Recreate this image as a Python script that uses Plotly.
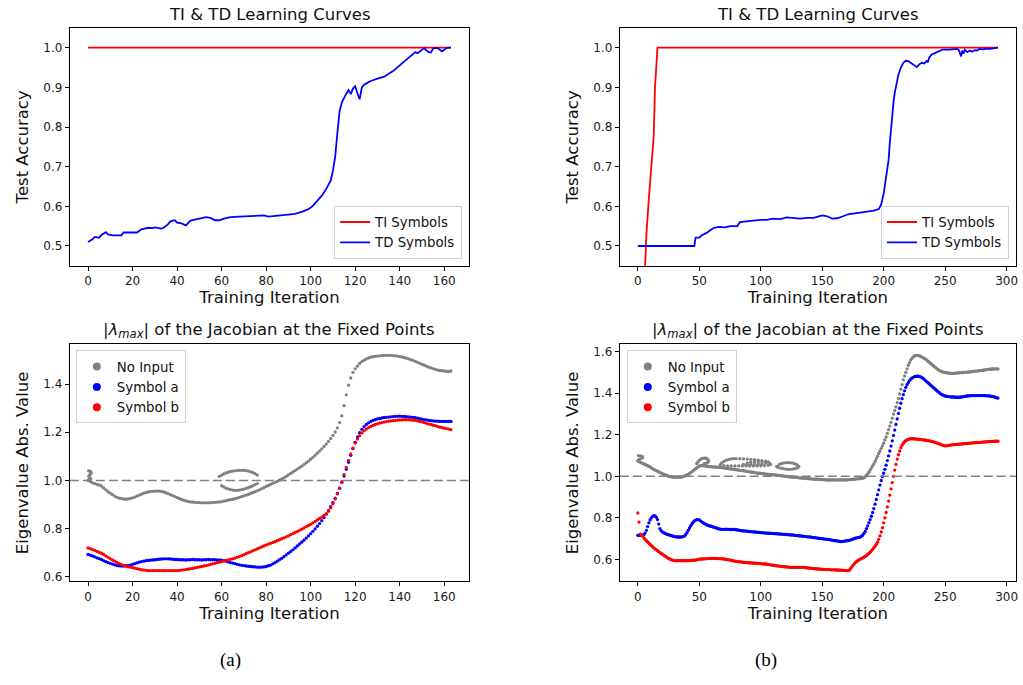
import plotly.graph_objects as go

W, H = 1023, 685

# ---------------- data: panel (a) ----------------
ti_a_x = [0, 163]
ti_a_y = [1.0, 1.0]

td_a_x = [0, 2, 3, 5, 6, 8, 9, 11, 13, 15, 16, 19, 22, 24, 27, 29, 30, 33, 34, 36, 37, 39, 40, 42, 44,
          46, 49, 51, 53, 55, 57, 59, 61, 64, 68, 74, 79, 81, 85, 89, 93, 96, 99, 101, 103, 105, 107,
          109, 110, 111, 112, 113, 114, 115, 116, 117, 118, 119, 120, 121, 122, 123, 124, 125, 127, 130,
          133, 137, 140, 142, 144, 146, 147, 148, 149, 150, 151, 152, 153, 154, 155, 156, 157, 158, 159,
          160, 161, 162, 163]
td_a_y = [0.510, 0.517, 0.523, 0.521, 0.528, 0.535, 0.529, 0.527, 0.527, 0.527, 0.534, 0.534, 0.534,
          0.542, 0.546, 0.545, 0.547, 0.544, 0.546, 0.555, 0.562, 0.565, 0.559, 0.557, 0.552,
          0.564, 0.567, 0.570, 0.573, 0.571, 0.565, 0.565, 0.569, 0.573, 0.574, 0.575, 0.577, 0.574,
          0.576, 0.578, 0.581, 0.586, 0.593, 0.601, 0.613, 0.627, 0.644,
          0.665, 0.690, 0.725, 0.785, 0.840, 0.862, 0.875, 0.884, 0.893, 0.883, 0.897, 0.903, 0.885,
          0.870, 0.900, 0.907, 0.910, 0.916, 0.922,
          0.927, 0.941, 0.956, 0.966, 0.976, 0.985, 0.989, 0.986, 0.990, 0.995, 0.999, 0.993, 0.989,
          0.988, 0.998, 0.999, 0.999, 0.995, 0.991,
          0.995, 0.999, 1.000, 1.000]

gray_a = [1.000, 0.995, 0.990, 0.987, 0.984, 0.981, 0.977, 0.969, 0.961, 0.953,
          0.947, 0.941, 0.935, 0.930, 0.927, 0.925, 0.923, 0.922, 0.923, 0.925,
          0.928, 0.931, 0.935, 0.939, 0.943, 0.947, 0.950, 0.952, 0.954, 0.955,
          0.956, 0.956, 0.956, 0.954, 0.952, 0.949, 0.945, 0.941, 0.937, 0.933,
          0.929, 0.925, 0.921, 0.918, 0.915, 0.913, 0.911, 0.910, 0.909, 0.908,
          0.908, 0.907, 0.907, 0.907, 0.907, 0.908, 0.908, 0.909, 0.910, 0.911,
          0.912, 0.914, 0.916, 0.918, 0.920, 0.922, 0.924, 0.927, 0.930, 0.933,
          0.936, 0.939, 0.942, 0.946, 0.950, 0.953, 0.957, 0.961, 0.966, 0.970,
          0.975, 0.979, 0.984, 0.988, 0.992, 0.996, 1.001, 1.006, 1.011, 1.017,
          1.023, 1.029, 1.035, 1.041, 1.047, 1.053, 1.059, 1.066, 1.073, 1.080,
          1.088, 1.096, 1.104, 1.113, 1.122, 1.131, 1.141, 1.151, 1.162, 1.174,
          1.187, 1.201, 1.218, 1.240, 1.268, 1.310, 1.355, 1.395, 1.425, 1.448,
          1.463, 1.474, 1.485, 1.493, 1.499, 1.504, 1.508, 1.511, 1.513, 1.515,
          1.516, 1.517, 1.518, 1.519, 1.519, 1.519, 1.519, 1.518, 1.517, 1.516,
          1.514, 1.512, 1.510, 1.507, 1.504, 1.501, 1.498, 1.494, 1.490, 1.486,
          1.482, 1.478, 1.474, 1.470, 1.467, 1.464, 1.461, 1.458, 1.456, 1.455,
          1.454, 1.453, 1.452, 1.454]
# additional fixed points (No Input) in panel (a)
gray_a_extra_x = [0.3, 0.8, 1.3, 1.4, 1.0, 0.5, 0.4, 0.8, 1.2,
                  59, 60, 61, 62, 63, 64, 65, 66, 67, 68, 69, 70, 71, 72, 73, 74, 75, 76,
                  60, 61, 62, 63, 64, 65, 66, 67, 68, 69, 70, 71, 72, 73, 74, 75, 76]
gray_a_extra_y = [1.040, 1.039, 1.035, 1.030, 1.025, 1.020, 1.015, 1.010, 1.006,
                  1.017, 1.022, 1.027, 1.031, 1.034, 1.037, 1.039, 1.040, 1.041, 1.042, 1.042, 1.042,
                  1.041, 1.039, 1.036, 1.033, 1.028, 1.023,
                  0.978, 0.973, 0.968, 0.965, 0.962, 0.960, 0.959, 0.959, 0.960, 0.962, 0.964, 0.967,
                  0.970, 0.974, 0.978, 0.983, 0.987]

blue_a = [0.693, 0.690, 0.687, 0.683, 0.679, 0.676, 0.672, 0.667, 0.663, 0.659,
          0.656, 0.653, 0.650, 0.647, 0.646, 0.645, 0.645, 0.646, 0.647, 0.649,
          0.652, 0.655, 0.658, 0.661, 0.663, 0.665, 0.667, 0.668, 0.669, 0.670,
          0.671, 0.672, 0.673, 0.674, 0.675, 0.675, 0.675, 0.674, 0.673, 0.672,
          0.672, 0.671, 0.671, 0.671, 0.670, 0.671, 0.671, 0.672, 0.671, 0.671,
          0.671, 0.670, 0.671, 0.671, 0.672, 0.671, 0.671, 0.671, 0.670, 0.670,
          0.669, 0.667, 0.665, 0.662, 0.659, 0.657, 0.655, 0.652, 0.650, 0.648,
          0.647, 0.645, 0.644, 0.643, 0.642, 0.641, 0.640, 0.640, 0.640, 0.641,
          0.643, 0.646, 0.649, 0.654, 0.659, 0.665, 0.671, 0.677, 0.684, 0.691,
          0.698, 0.705, 0.712, 0.720, 0.728, 0.736, 0.744, 0.752, 0.761, 0.770,
          0.779, 0.789, 0.799, 0.810, 0.821, 0.833, 0.846, 0.860, 0.875, 0.891,
          0.908, 0.926, 0.946, 0.968, 0.992, 1.018, 1.046, 1.075, 1.104, 1.132,
          1.158, 1.180, 1.198, 1.212, 1.223, 1.232, 1.239, 1.245, 1.249, 1.252,
          1.255, 1.257, 1.259, 1.261, 1.262, 1.263, 1.264, 1.265, 1.266, 1.266,
          1.267, 1.266, 1.266, 1.265, 1.264, 1.263, 1.262, 1.260, 1.258, 1.256,
          1.254, 1.252, 1.251, 1.249, 1.248, 1.247, 1.246, 1.246, 1.245, 1.245,
          1.245, 1.245, 1.245, 1.245]

red_a = [0.720, 0.717, 0.713, 0.710, 0.706, 0.702, 0.698, 0.693, 0.687, 0.681,
         0.675, 0.670, 0.665, 0.660, 0.655, 0.651, 0.648, 0.645, 0.642, 0.640,
         0.638, 0.636, 0.634, 0.632, 0.630, 0.628, 0.627, 0.626, 0.626, 0.626,
         0.626, 0.626, 0.626, 0.626, 0.626, 0.626, 0.626, 0.626, 0.626, 0.626,
         0.626, 0.627, 0.628, 0.629, 0.631, 0.632, 0.634, 0.635, 0.637, 0.639,
         0.641, 0.643, 0.645, 0.647, 0.649, 0.652, 0.654, 0.656, 0.659, 0.661,
         0.663, 0.666, 0.668, 0.670, 0.673, 0.675, 0.678, 0.681, 0.684, 0.688,
         0.692, 0.696, 0.700, 0.704, 0.708, 0.712, 0.716, 0.720, 0.724, 0.728,
         0.732, 0.736, 0.739, 0.743, 0.746, 0.750, 0.754, 0.758, 0.762, 0.766,
         0.770, 0.775, 0.779, 0.784, 0.788, 0.793, 0.798, 0.803, 0.808, 0.813,
         0.818, 0.824, 0.830, 0.836, 0.842, 0.848, 0.855, 0.862, 0.872, 0.886,
         0.903, 0.923, 0.944, 0.968, 0.995, 1.024, 1.054, 1.083, 1.110, 1.134,
         1.155, 1.172, 1.186, 1.197, 1.206, 1.213, 1.219, 1.224, 1.228, 1.232,
         1.235, 1.238, 1.240, 1.242, 1.244, 1.246, 1.247, 1.248, 1.249, 1.250,
         1.251, 1.251, 1.252, 1.252, 1.252, 1.251, 1.250, 1.249, 1.247, 1.245,
         1.243, 1.240, 1.237, 1.234, 1.232, 1.229, 1.227, 1.224, 1.221, 1.219,
         1.217, 1.215, 1.213, 1.211]

# ---------------- data: panel (b) ----------------
ti_b_x = [0, 7, 9, 11, 13, 14, 15, 16, 293]
ti_b_y = [0.00, 0.53, 0.62, 0.71, 0.78, 0.90, 0.97, 1.00, 1.00]

td_b_x = [0, 46, 47, 50, 52, 54, 56, 58, 60, 62, 66, 71, 75, 81, 83, 89, 94, 100, 105, 110, 116, 121,
          127, 132, 138, 143, 150, 154, 158, 162, 167, 171, 178, 186, 192, 196, 198, 200, 202, 204, 205,
          206, 207, 208, 209, 210, 212, 214, 216, 218, 220, 222, 224, 226, 227, 229, 231, 233, 235, 236,
          237, 239, 241, 244, 246, 248, 254, 259, 261, 262, 263, 264, 265, 266, 268, 270, 272, 274, 276,
          278, 281, 284, 287, 290, 293]
td_b_y = [0.500, 0.500, 0.521, 0.521, 0.527, 0.529, 0.533, 0.538, 0.542, 0.546, 0.548, 0.547, 0.550,
          0.550, 0.560, 0.563, 0.564, 0.566, 0.566, 0.569, 0.568, 0.572,
          0.571, 0.569, 0.571, 0.571, 0.577, 0.575, 0.569, 0.570, 0.575, 0.580, 0.583, 0.586, 0.589,
          0.593, 0.605, 0.632, 0.670, 0.717, 0.760,
          0.800, 0.835, 0.862, 0.886, 0.905, 0.932, 0.950, 0.962, 0.967, 0.966, 0.962, 0.957, 0.953,
          0.951, 0.958, 0.962, 0.960, 0.967, 0.963,
          0.975, 0.983, 0.986, 0.989, 0.993, 0.995, 0.995, 0.997, 0.995, 0.988, 0.978, 0.993, 0.985,
          0.995, 0.989, 0.993, 0.990, 0.994, 0.993,
          0.997, 0.996, 0.998, 0.997, 0.999, 1.000]

gray_b = [1.074, 1.071, 1.068, 1.065, 1.062, 1.060, 1.057, 1.054, 1.051, 1.048,
          1.045, 1.041, 1.037, 1.034, 1.031, 1.028, 1.025, 1.022, 1.019, 1.016,
          1.013, 1.011, 1.008, 1.006, 1.003, 1.001, 0.999, 0.998, 0.997, 0.996,
          0.996, 0.996, 0.996, 0.996, 0.997, 0.997, 0.998, 0.999, 1.001, 1.004,
          1.007, 1.010, 1.014, 1.018, 1.022, 1.027, 1.032, 1.037, 1.042, 1.046,
          1.049, 1.051, 1.052, 1.052, 1.051, 1.050, 1.049, 1.048, 1.047, 1.047,
          1.046, 1.046, 1.045, 1.045, 1.044, 1.044, 1.043, 1.043, 1.042, 1.041,
          1.041, 1.040, 1.039, 1.038, 1.037, 1.036, 1.035, 1.035, 1.034, 1.033,
          1.032, 1.031, 1.030, 1.029, 1.029, 1.028, 1.027, 1.026, 1.025, 1.024,
          1.023, 1.022, 1.021, 1.020, 1.019, 1.018, 1.017, 1.016, 1.015, 1.015,
          1.014, 1.013, 1.013, 1.012, 1.011, 1.011, 1.010, 1.009, 1.009, 1.008,
          1.008, 1.007, 1.007, 1.006, 1.005, 1.004, 1.004, 1.003, 1.002, 1.001,
          1.000, 1.000, 0.999, 0.998, 0.998, 0.997, 0.997, 0.996, 0.995, 0.995,
          0.994, 0.993, 0.993, 0.992, 0.991, 0.991, 0.990, 0.990, 0.989, 0.989,
          0.988, 0.988, 0.987, 0.987, 0.986, 0.986, 0.986, 0.985, 0.985, 0.985,
          0.984, 0.984, 0.984, 0.983, 0.983, 0.983, 0.983, 0.983, 0.983, 0.983,
          0.983, 0.983, 0.983, 0.983, 0.983, 0.983, 0.983, 0.983, 0.983, 0.983,
          0.983, 0.984, 0.984, 0.985, 0.985, 0.986, 0.986, 0.987, 0.988, 0.988,
          0.989, 0.989, 0.990, 0.991, 0.993, 0.998, 1.005, 1.012, 1.020, 1.030,
          1.040, 1.050, 1.060, 1.072, 1.085, 1.097, 1.110, 1.122, 1.135, 1.147,
          1.160, 1.175, 1.190, 1.207, 1.225, 1.242, 1.260, 1.280, 1.300, 1.317,
          1.335, 1.355, 1.375, 1.397, 1.420, 1.442, 1.465, 1.483, 1.500, 1.518,
          1.535, 1.548, 1.560, 1.568, 1.575, 1.579, 1.582, 1.583, 1.583, 1.581,
          1.578, 1.575, 1.572, 1.568, 1.565, 1.560, 1.555, 1.550, 1.545, 1.540,
          1.535, 1.530, 1.525, 1.520, 1.515, 1.511, 1.508, 1.505, 1.503, 1.501,
          1.500, 1.499, 1.498, 1.497, 1.497, 1.496, 1.496, 1.496, 1.497, 1.497,
          1.498, 1.498, 1.499, 1.499, 1.500, 1.500, 1.501, 1.501, 1.502, 1.502,
          1.503, 1.504, 1.504, 1.505, 1.506, 1.507, 1.507, 1.508, 1.509, 1.510,
          1.510, 1.511, 1.512, 1.513, 1.514, 1.515, 1.516, 1.516, 1.517, 1.517,
          1.518, 1.518, 1.518, 1.517]
# additional fixed points (No Input) in panel (b)
gray_b_extra_x = [0.5, 2.0, 3.5, 4.0, 3.0, 1.5, 0.5,
                  48, 49, 50, 51, 52, 53, 54, 55, 56, 57, 57.5, 57, 56, 55, 54,
                  67, 68, 70, 72, 74, 76, 78, 80, 83, 86, 89, 92, 95, 98, 101, 104, 106, 107, 108,
                  106, 103, 100, 97, 94, 91, 88, 85, 82, 79, 76, 73, 70,
                  86, 89, 92, 95, 98, 101, 104, 101, 98, 95, 92, 89,
                  113, 115, 117, 119, 121, 123, 125, 127, 129, 130, 131,
                  130, 128, 126, 124, 122, 120, 118, 116, 114]
gray_b_extra_y = [1.100, 1.099, 1.096, 1.091, 1.087, 1.083, 1.079,
                  1.062, 1.070, 1.077, 1.082, 1.085, 1.087, 1.088, 1.088, 1.086, 1.081, 1.074, 1.068,
                  1.064, 1.062, 1.061,
                  1.055, 1.063, 1.072, 1.078, 1.082, 1.084, 1.085, 1.085, 1.085, 1.084, 1.083, 1.082,
                  1.080, 1.078, 1.076, 1.073, 1.069, 1.064, 1.058,
                  1.053, 1.052, 1.051, 1.050, 1.050, 1.050, 1.050, 1.050, 1.050, 1.050, 1.050, 1.050,
                  1.052,
                  1.058, 1.064, 1.068, 1.070, 1.070, 1.069, 1.064, 1.060, 1.059, 1.058, 1.057, 1.056,
                  1.048, 1.057, 1.062, 1.065, 1.066, 1.066, 1.065, 1.062, 1.057, 1.052, 1.047,
                  1.041, 1.037, 1.035, 1.034, 1.034, 1.035, 1.037, 1.040, 1.043]

blue_b = [0.716, 0.716, 0.716, 0.716, 0.716, 0.720, 0.727, 0.740, 0.758, 0.776,
          0.790, 0.800, 0.807, 0.811, 0.810, 0.803, 0.792, 0.770, 0.748, 0.738,
          0.733, 0.729, 0.726, 0.723, 0.721, 0.719, 0.717, 0.715, 0.713, 0.711,
          0.710, 0.709, 0.708, 0.708, 0.708, 0.708, 0.709, 0.710, 0.713, 0.720,
          0.729, 0.740, 0.751, 0.761, 0.771, 0.779, 0.785, 0.789, 0.792, 0.792,
          0.790, 0.786, 0.781, 0.777, 0.773, 0.770, 0.767, 0.764, 0.762, 0.761,
          0.759, 0.757, 0.755, 0.753, 0.751, 0.749, 0.747, 0.746, 0.745, 0.745,
          0.745, 0.745, 0.746, 0.745, 0.745, 0.744, 0.744, 0.745, 0.744, 0.744,
          0.743, 0.742, 0.741, 0.740, 0.739, 0.738, 0.737, 0.737, 0.736, 0.736,
          0.735, 0.734, 0.734, 0.733, 0.733, 0.732, 0.731, 0.731, 0.730, 0.730,
          0.729, 0.729, 0.728, 0.728, 0.727, 0.727, 0.726, 0.726, 0.725, 0.725,
          0.725, 0.724, 0.724, 0.724, 0.723, 0.723, 0.722, 0.722, 0.721, 0.721,
          0.720, 0.720, 0.719, 0.719, 0.718, 0.718, 0.718, 0.717, 0.716, 0.715,
          0.715, 0.714, 0.713, 0.713, 0.712, 0.711, 0.711, 0.710, 0.709, 0.709,
          0.708, 0.707, 0.706, 0.705, 0.705, 0.704, 0.703, 0.702, 0.701, 0.701,
          0.700, 0.699, 0.698, 0.698, 0.697, 0.696, 0.695, 0.694, 0.693, 0.692,
          0.691, 0.690, 0.689, 0.688, 0.687, 0.686, 0.686, 0.687, 0.688, 0.689,
          0.690, 0.691, 0.692, 0.694, 0.696, 0.698, 0.700, 0.702, 0.704, 0.705,
          0.706, 0.708, 0.712, 0.718, 0.725, 0.735, 0.748, 0.762, 0.777, 0.792,
          0.808, 0.826, 0.845, 0.866, 0.889, 0.912, 0.935, 0.958, 0.980, 0.998,
          1.015, 1.034, 1.054, 1.076, 1.099, 1.122, 1.146, 1.171, 1.197, 1.223,
          1.250, 1.277, 1.303, 1.328, 1.352, 1.374, 1.394, 1.412, 1.428, 1.441,
          1.452, 1.461, 1.468, 1.473, 1.477, 1.480, 1.481, 1.482, 1.482, 1.481,
          1.479, 1.476, 1.472, 1.467, 1.461, 1.456, 1.451, 1.446, 1.440, 1.435,
          1.430, 1.425, 1.420, 1.414, 1.409, 1.404, 1.399, 1.395, 1.392, 1.389,
          1.387, 1.386, 1.385, 1.384, 1.383, 1.382, 1.382, 1.382, 1.381, 1.381,
          1.381, 1.381, 1.381, 1.382, 1.383, 1.384, 1.385, 1.386, 1.387, 1.388,
          1.388, 1.389, 1.389, 1.389, 1.389, 1.389, 1.389, 1.389, 1.389, 1.389,
          1.389, 1.389, 1.389, 1.389, 1.388, 1.388, 1.387, 1.386, 1.385, 1.384,
          1.382, 1.380, 1.378, 1.377]

red_b = [0.824, 0.780, 0.722, 0.718, 0.712, 0.703, 0.697, 0.690, 0.684, 0.678,
         0.672, 0.666, 0.661, 0.656, 0.651, 0.646, 0.642, 0.638, 0.633, 0.629,
         0.625, 0.621, 0.617, 0.613, 0.609, 0.605, 0.602, 0.599, 0.597, 0.595,
         0.594, 0.594, 0.594, 0.594, 0.594, 0.594, 0.594, 0.594, 0.594, 0.594,
         0.594, 0.594, 0.595, 0.595, 0.595, 0.596, 0.596, 0.597, 0.598, 0.600,
         0.601, 0.601, 0.602, 0.602, 0.603, 0.603, 0.604, 0.604, 0.604, 0.605,
         0.605, 0.605, 0.605, 0.605, 0.605, 0.604, 0.604, 0.604, 0.603, 0.603,
         0.602, 0.601, 0.600, 0.599, 0.598, 0.597, 0.596, 0.594, 0.593, 0.592,
         0.591, 0.590, 0.589, 0.588, 0.588, 0.587, 0.586, 0.586, 0.585, 0.585,
         0.584, 0.584, 0.583, 0.583, 0.582, 0.582, 0.582, 0.581, 0.581, 0.580,
         0.580, 0.579, 0.579, 0.578, 0.578, 0.577, 0.576, 0.575, 0.574, 0.573,
         0.572, 0.571, 0.570, 0.569, 0.569, 0.568, 0.567, 0.566, 0.565, 0.565,
         0.564, 0.564, 0.563, 0.563, 0.562, 0.562, 0.562, 0.562, 0.562, 0.562,
         0.562, 0.562, 0.562, 0.562, 0.562, 0.562, 0.561, 0.560, 0.559, 0.559,
         0.558, 0.557, 0.557, 0.556, 0.555, 0.555, 0.554, 0.554, 0.553, 0.553,
         0.552, 0.552, 0.552, 0.551, 0.551, 0.551, 0.551, 0.550, 0.550, 0.550,
         0.550, 0.549, 0.549, 0.549, 0.548, 0.548, 0.548, 0.547, 0.547, 0.546,
         0.546, 0.546, 0.548, 0.555, 0.563, 0.571, 0.578, 0.585, 0.590, 0.594,
         0.598, 0.601, 0.604, 0.607, 0.611, 0.615, 0.619, 0.624, 0.629, 0.635,
         0.641, 0.648, 0.656, 0.664, 0.673, 0.683, 0.697, 0.713, 0.732, 0.753,
         0.776, 0.800, 0.826, 0.853, 0.881, 0.910, 0.940, 0.970, 1.000, 1.030,
         1.058, 1.083, 1.104, 1.122, 1.138, 1.150, 1.160, 1.167, 1.172, 1.176,
         1.178, 1.180, 1.181, 1.181, 1.181, 1.180, 1.180, 1.179, 1.179, 1.178,
         1.178, 1.177, 1.176, 1.175, 1.174, 1.173, 1.172, 1.171, 1.170, 1.168,
         1.167, 1.165, 1.163, 1.161, 1.159, 1.157, 1.155, 1.152, 1.150, 1.148,
         1.147, 1.147, 1.148, 1.149, 1.150, 1.151, 1.152, 1.153, 1.153, 1.154,
         1.154, 1.155, 1.155, 1.156, 1.157, 1.157, 1.158, 1.158, 1.159, 1.159,
         1.160, 1.160, 1.161, 1.161, 1.162, 1.162, 1.163, 1.163, 1.164, 1.164,
         1.165, 1.165, 1.166, 1.166, 1.167, 1.167, 1.167, 1.168, 1.168, 1.168,
         1.169, 1.169, 1.169, 1.169]

iters_a = list(range(len(gray_a)))
iters_b = list(range(len(gray_b)))

# ---------------- styling ----------------
GRAY, BLUE, RED = "#808080", "#0000ff", "#ff0000"
FONT = "DejaVu Sans"
DOT = 3.3


def px(v):
    return v / W


def py(v):
    return 1 - v / H


fig = go.Figure()

# top-left
fig.add_trace(go.Scatter(x=ti_a_x, y=ti_a_y, mode="lines", line=dict(color=RED, width=1.8),
                         name="TI Symbols", xaxis="x", yaxis="y", legend="legend"))
fig.add_trace(go.Scatter(x=td_a_x, y=td_a_y, mode="lines", line=dict(color=BLUE, width=1.8),
                         name="TD Symbols", xaxis="x", yaxis="y", legend="legend"))
# top-right
fig.add_trace(go.Scatter(x=ti_b_x, y=ti_b_y, mode="lines", line=dict(color=RED, width=1.8),
                         name="TI Symbols", xaxis="x2", yaxis="y2", legend="legend2"))
fig.add_trace(go.Scatter(x=td_b_x, y=td_b_y, mode="lines", line=dict(color=BLUE, width=1.8),
                         name="TD Symbols", xaxis="x2", yaxis="y2", legend="legend2"))


def add_scatter(xs, ys, color, xa, ya):
    fig.add_trace(go.Scatter(x=xs, y=ys, mode="markers",
                             marker=dict(color=color, size=DOT, line=dict(width=0)),
                             showlegend=False, xaxis=xa, yaxis=ya, hoverinfo="skip"))


def add_legend_entry(name, color, xa, ya, leg):
    fig.add_trace(go.Scatter(x=[None], y=[None], mode="markers",
                             marker=dict(color=color, size=8, line=dict(width=0)),
                             name=name, xaxis=xa, yaxis=ya, legend=leg))


# bottom-left
add_scatter(iters_a + gray_a_extra_x, gray_a + gray_a_extra_y, GRAY, "x3", "y3")
add_scatter(iters_a, blue_a, BLUE, "x3", "y3")
add_scatter(iters_a, red_a, RED, "x3", "y3")
add_legend_entry("No Input", GRAY, "x3", "y3", "legend3")
add_legend_entry("Symbol a", BLUE, "x3", "y3", "legend3")
add_legend_entry("Symbol b", RED, "x3", "y3", "legend3")
# bottom-right
add_scatter(iters_b + gray_b_extra_x, gray_b + gray_b_extra_y, GRAY, "x4", "y4")
add_scatter(iters_b, blue_b, BLUE, "x4", "y4")
add_scatter(iters_b, red_b, RED, "x4", "y4")
add_legend_entry("No Input", GRAY, "x4", "y4", "legend4")
add_legend_entry("Symbol a", BLUE, "x4", "y4", "legend4")
add_legend_entry("Symbol b", RED, "x4", "y4", "legend4")

axis_common = dict(showline=True, linecolor="black", linewidth=1, mirror=True,
                   ticks="outside", ticklen=4, tickwidth=1, tickcolor="black",
                   showgrid=False, zeroline=False,
                   tickfont=dict(family=FONT, size=12, color="#1a1a1a"))
title_font = dict(family=FONT, size=16.5, color="#111")

L_X = [px(70), px(470)]
R_X = [px(621), px(1018)]
T_Y = [py(267), py(28)]
B_Y = [py(584), py(346)]

fig.update_layout(
    width=W, height=H, margin=dict(l=0, r=0, t=0, b=0),
    paper_bgcolor="white", plot_bgcolor="white",
    font=dict(family=FONT, color="#111"),
    xaxis=dict(axis_common, domain=L_X, anchor="y", range=[-8.15, 171.15],
               tickvals=[0, 20, 40, 60, 80, 100, 120, 140, 160],
               title=dict(text="Training Iteration", font=title_font, standoff=4)),
    yaxis=dict(axis_common, domain=T_Y, anchor="x", range=[0.45, 1.05],
               tickvals=[0.5, 0.6, 0.7, 0.8, 0.9, 1.0], tickformat=".1f",
               title=dict(text="Test Accuracy", font=title_font, standoff=10)),
    xaxis2=dict(axis_common, domain=R_X, anchor="y2", range=[-14.65, 307.65],
                tickvals=[0, 50, 100, 150, 200, 250, 300],
                title=dict(text="Training Iteration", font=title_font, standoff=4)),
    yaxis2=dict(axis_common, domain=T_Y, anchor="x2", range=[0.45, 1.05],
                tickvals=[0.5, 0.6, 0.7, 0.8, 0.9, 1.0], tickformat=".1f",
                title=dict(text="Test Accuracy", font=title_font, standoff=10)),
    xaxis3=dict(axis_common, domain=L_X, anchor="y3", range=[-8.15, 171.15],
                tickvals=[0, 20, 40, 60, 80, 100, 120, 140, 160],
                title=dict(text="Training Iteration", font=title_font, standoff=4)),
    yaxis3=dict(axis_common, domain=B_Y, anchor="x3", range=[0.581, 1.564],
                tickvals=[0.6, 0.8, 1.0, 1.2, 1.4], tickformat=".1f",
                title=dict(text="Eigenvalue Abs. Value", font=title_font, standoff=10)),
    xaxis4=dict(axis_common, domain=R_X, anchor="y4", range=[-14.65, 307.65],
                tickvals=[0, 50, 100, 150, 200, 250, 300],
                title=dict(text="Training Iteration", font=title_font, standoff=4)),
    yaxis4=dict(axis_common, domain=B_Y, anchor="x4", range=[0.494, 1.635],
                tickvals=[0.6, 0.8, 1.0, 1.2, 1.4, 1.6], tickformat=".1f",
                title=dict(text="Eigenvalue Abs. Value", font=title_font, standoff=10)),
)

leg_common = dict(bgcolor="white", bordercolor="#d0d0d0", borderwidth=1,
                  font=dict(family=FONT, size=13.3, color="#111"), tracegroupgap=0)
fig.update_layout(
    legend=dict(leg_common, x=px(463), y=py(260), xanchor="right", yanchor="bottom"),
    legend2=dict(leg_common, x=px(1011), y=py(260), xanchor="right", yanchor="bottom"),
    legend3=dict(leg_common, x=px(76), y=py(352), xanchor="left", yanchor="top"),
    legend4=dict(leg_common, x=px(628), y=py(352), xanchor="left", yanchor="top"),
)

# dashed reference lines at |lambda| = 1
for xa, ya in (("x3", "y3"), ("x4", "y4")):
    fig.add_shape(type="line", xref=f"{xa} domain", x0=0, x1=1, yref=ya, y0=1.0, y1=1.0,
                  line=dict(color=GRAY, width=1.5, dash="9px,4px"))

# panel titles and captions
ttl = dict(family=FONT, size=16.5, color="#111")
lam = "|<i>λ</i><sub><i>max</i></sub>| of the Jacobian at the Fixed Points"
for text, cx, cy in (("TI &amp; TD Learning Curves", 270, 15),
                     ("TI &amp; TD Learning Curves", 819.5, 15),
                     (lam, 270, 332), (lam, 819.5, 332)):
    fig.add_annotation(text=text, x=px(cx), y=py(cy), xref="paper", yref="paper",
                       xanchor="center", yanchor="middle", showarrow=False, font=ttl)
for text, cx in (("(a)", 231), ("(b)", 767)):
    fig.add_annotation(text=text, x=px(cx), y=py(663), xref="paper", yref="paper",
                       xanchor="center", yanchor="middle", showarrow=False,
                       font=dict(family="Liberation Serif", size=19, color="black"))

fig.write_html("out.html")
